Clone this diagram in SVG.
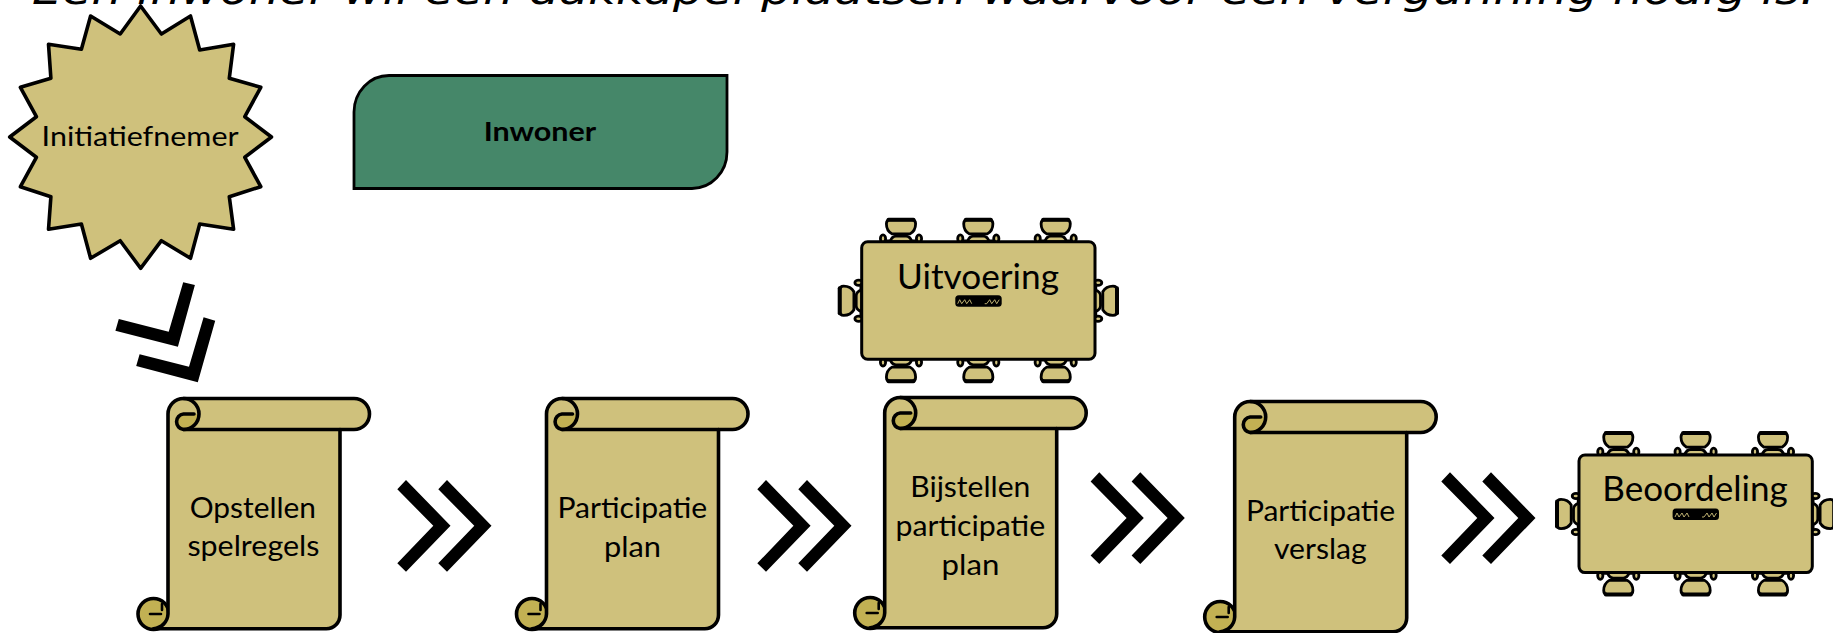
<svg xmlns="http://www.w3.org/2000/svg" xmlns:xlink="http://www.w3.org/1999/xlink" width="1833" height="633" viewBox="0 0 1833 633">
<style>
.t{font-family:Lato,"Liberation Sans",sans-serif;fill:#000}
.s{font-size:29.5px}
.b{font-size:34.5px}
.tan{fill:#cfc17c;stroke:#000;stroke-width:3.6;stroke-linejoin:round}
.dk{fill:#c2b153;stroke:#000;stroke-width:3.6;stroke-linejoin:round}
.ch{fill:#cfc17c;stroke:#000;stroke-width:2.8;stroke-linejoin:round}
.ln{fill:none;stroke:#000;stroke-width:3.6;stroke-linecap:round;stroke-linejoin:round}
</style>
<defs>
<path id="chev" d="M406,480 L450.5,525.7 L406,571.7 L397.3,563.3 L433.3,525.7 L397.3,489.3Z M447,480 L491.5,525.7 L447,571.7 L438.3,563.3 L474.3,525.7 L438.3,489.3Z" fill="#000"/>
<g id="scroll">
<circle class="dk" cx="33.5" cy="224" r="15.5"/>
<path class="tan" d="M48,24 A15.5,15.5 0 0 1 63.5,8.5 H234 A15.5,15.5 0 0 1 234,39.5 H220 V225 A13.7,13.7 0 0 1 206.3,238.7 H33.5 A15.5,15.5 0 0 0 48,224 V208.5 Z"/>
<path d="M63.5,39.5 A7.8,7.8 0 0 1 63.5,24 H78.5 A15.5,15.5 0 0 1 63.5,39.5Z" fill="#c2b153"/>
<path class="ln" d="M63.5,8.5 A15.5,15.5 0 0 1 63.5,39.5 A7.8,7.8 0 0 1 63.5,24 H74"/>
<path class="ln" d="M63.5,39.5 H220"/>
<path class="ln" d="M30,224 H41 M42,214 V220" style="stroke-width:2.6"/>
</g>
<g id="chair">
<path class="ch" d="M-11,0 Q-9,-5.5 -5,-5.5 H5 Q9,-5.5 11,0Z"/>
<ellipse class="ch" cx="-18" cy="-3" rx="2.6" ry="3.8"/>
<ellipse class="ch" cx="18" cy="-3" rx="2.6" ry="3.8"/>
<path class="ln" d="M-16,-1 H-11 M11,-1 H16" style="stroke-width:2.4"/>
<path class="ch" d="M-11,-21.8 H11 Q14.6,-21.8 14.6,-18 Q14.6,-11 9,-7.8 H-9 Q-14.6,-11 -14.6,-18 Q-14.6,-21.8 -11,-21.8Z"/>
<path class="ln" d="M-12.5,-22 H12.5" style="stroke-width:4"/>
</g>
<g id="table">
<use xlink:href="#chair" href="#chair" transform="translate(39.3,0)"/>
<use xlink:href="#chair" href="#chair" transform="translate(116.6,0)"/>
<use xlink:href="#chair" href="#chair" transform="translate(194,0)"/>
<use xlink:href="#chair" href="#chair" transform="translate(39.3,117.6) rotate(180)"/>
<use xlink:href="#chair" href="#chair" transform="translate(116.6,117.6) rotate(180)"/>
<use xlink:href="#chair" href="#chair" transform="translate(194,117.6) rotate(180)"/>
<use xlink:href="#chair" href="#chair" transform="translate(0,59) rotate(-90)"/>
<use xlink:href="#chair" href="#chair" transform="translate(233.3,59) rotate(90)"/>
<rect class="tan" x="0" y="0" width="233.3" height="117.6" rx="6" style="stroke-width:3"/>
<rect x="93.6" y="53.6" width="46.4" height="11.4" rx="3.5" fill="#000"/>
<path d="M96,62 L98,58 L100,62 L103,58 L105,62 L108,58 L110,62 M123,62 L125,62 L128,58 L130,62 L133,58 L135,62 L137.5,58" fill="none" stroke="#cfc17c" stroke-width=".9"/>
</g>
</defs>

<text id="title" x="32" y="3.5" textLength="1783" lengthAdjust="spacingAndGlyphs" font-family="'DejaVu Sans',sans-serif" font-style="italic" font-size="40" fill="#000">Een inwoner wil een dakkapel plaatsen waarvoor een vergunning nodig is.</text>

<g id="node-initiatiefnemer">
<polygon class="tan" points="140.6,6 161.4,34 190.5,16 199.7,50 233.6,44.3 229.3,78.3 260.8,87.3 244.8,116.7 271.5,137 244.8,157.3 260.8,186.7 229.3,196.7 233.6,229.3 199.7,224 190.5,258.3 161.4,240.7 140.6,268.3 120.2,240.7 90.6,258.3 81.4,224 48.5,229.3 50.9,196.7 20.4,186.7 36.4,157.3 9.7,137 36.4,116.7 20.4,87.3 50.9,78.3 48.5,44.3 81.4,49.3 90.6,16 120.2,34"/>
<text class="t" x="41.6" y="145.5" font-size="27" textLength="197" lengthAdjust="spacingAndGlyphs">Initiatiefnemer</text>
</g>

<g id="node-inwoner">
<path d="M389,75.5 H727 V152 A35,36.5 0 0 1 692,188.5 H354 V112 A35,36.5 0 0 1 389,75.5Z" fill="#458769" stroke="#000" stroke-width="2.8"/>
<text class="t" x="483.7" y="140.5" font-size="27.5" font-weight="700" textLength="112.5" lengthAdjust="spacingAndGlyphs">Inwoner</text>
</g>

<g id="node-opstellen">
<use xlink:href="#scroll" href="#scroll" transform="translate(120,390)"/>
<text class="t s" x="189.7" y="517.5" textLength="126.3" lengthAdjust="spacingAndGlyphs">Opstellen</text>
<text class="t s" x="187.4" y="556" textLength="132" lengthAdjust="spacingAndGlyphs">spelregels</text>
</g>
<g id="node-participatieplan">
<use xlink:href="#scroll" href="#scroll" transform="translate(498.5,390)"/>
<text class="t s" x="557.5" y="518.3" textLength="149.7" lengthAdjust="spacingAndGlyphs">Participatie</text>
<text class="t s" x="604" y="557" textLength="57" lengthAdjust="spacingAndGlyphs">plan</text>
</g>
<g id="node-bijstellen">
<use xlink:href="#scroll" href="#scroll" transform="translate(836.7,389)"/>
<text class="t s" x="910.3" y="496.5" textLength="120" lengthAdjust="spacingAndGlyphs">Bijstellen</text>
<text class="t s" x="895.5" y="536" textLength="149.7" lengthAdjust="spacingAndGlyphs">participatie</text>
<text class="t s" x="941.6" y="575" textLength="57.7" lengthAdjust="spacingAndGlyphs">plan</text>
</g>
<g id="node-verslag">
<use xlink:href="#scroll" href="#scroll" transform="translate(1186.7,393)"/>
<text class="t s" x="1245.9" y="521" textLength="149.3" lengthAdjust="spacingAndGlyphs">Participatie</text>
<text class="t s" x="1274" y="559.3" textLength="92.7" lengthAdjust="spacingAndGlyphs">verslag</text>
</g>
<g id="node-uitvoering">
<use xlink:href="#table" href="#table" transform="translate(861.7,241.7)"/>
<text class="t b" x="897" y="288.5" textLength="162" lengthAdjust="spacingAndGlyphs">Uitvoering</text>
</g>
<g id="node-beoordeling">
<use xlink:href="#table" href="#table" transform="translate(1579,455)"/>
<text class="t b" x="1602.3" y="501" textLength="185.4" lengthAdjust="spacingAndGlyphs">Beoordeling</text>
</g>

<g id="connectors">
<path d="M183.2,282.3 L194.9,285 L177.9,346.7 L115.4,330.7 L118.8,319 L168.7,331.7Z M203.6,317.3 L215.2,320.7 L197.8,382.3 L136.2,366 L139.6,354.3 L189,366.7Z" fill="#000"/>
<use xlink:href="#chev" href="#chev"/>
<use xlink:href="#chev" href="#chev" transform="translate(360,0)"/>
<use xlink:href="#chev" href="#chev" transform="translate(693.3,-7.7)"/>
<use xlink:href="#chev" href="#chev" transform="translate(1044,-7.7)"/>
</g>
</svg>
